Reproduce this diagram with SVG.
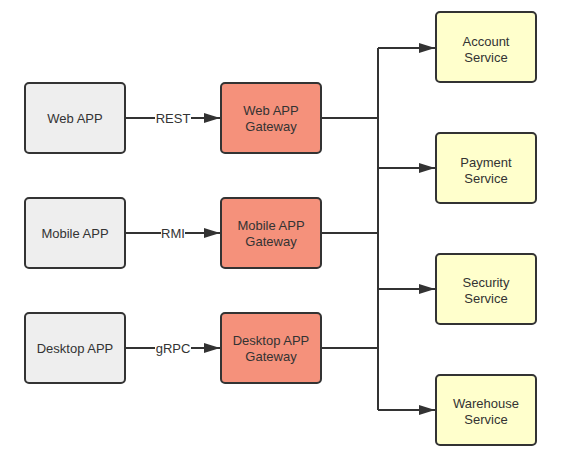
<svg xmlns="http://www.w3.org/2000/svg" width="561" height="458" viewBox="0 0 561 458">
<defs>
<style>
.box{stroke:#333333;stroke-width:2}
.client{fill:#eeeeee}
.gw{fill:#f5917b}
.svc{fill:#ffffcc}
text{font-family:"Liberation Sans",Arial,sans-serif;font-size:13px;fill:#333333;text-anchor:middle;dominant-baseline:central}
.edge{fill:none;stroke:#333333;stroke-width:2}
.lbl{fill:#ffffff}
</style>
<marker id="arr" viewBox="0 0 16 10" refX="16" refY="5" markerWidth="16" markerHeight="10" markerUnits="userSpaceOnUse" orient="auto">
<path d="M0,0 L16,5 L0,10 Z" fill="#333333"/>
</marker>
</defs>
<rect width="561" height="458" fill="#ffffff"/>
<g id="connectors">
<path class="edge" d="M125,118 H220" marker-end="url(#arr)"/>
<path class="edge" d="M125,233 H220" marker-end="url(#arr)"/>
<path class="edge" d="M125,348 H220" marker-end="url(#arr)"/>
<path class="edge" d="M321,118 H378"/>
<path class="edge" d="M321,233 H378"/>
<path class="edge" d="M321,348 H378"/>
<path class="edge" d="M378,48 V410"/>
<path class="edge" d="M378,48 H435" marker-end="url(#arr)"/>
<path class="edge" d="M378,168 H435" marker-end="url(#arr)"/>
<path class="edge" d="M378,289 H435" marker-end="url(#arr)"/>
<path class="edge" d="M378,410 H435" marker-end="url(#arr)"/>
<rect class="lbl" x="155" y="110" width="36" height="16"/>
<text x="173" y="118">REST</text>
<rect class="lbl" x="161" y="225" width="24" height="16"/>
<text x="173" y="233">RMI</text>
<rect class="lbl" x="155" y="340" width="36" height="16"/>
<text x="173" y="348">gRPC</text>
</g>
<g id="web-app"><rect class="box client" x="25" y="83" width="100" height="70" rx="4"/><text x="75" y="118">Web APP</text></g>
<g id="mobile-app"><rect class="box client" x="25" y="198" width="100" height="70" rx="4"/><text x="75" y="233">Mobile APP</text></g>
<g id="desktop-app"><rect class="box client" x="25" y="313" width="100" height="70" rx="4"/><text x="75" y="348">Desktop APP</text></g>
<g id="web-gw"><rect class="box gw" x="221" y="83" width="100" height="70" rx="4"/><text x="271" y="110">Web APP</text><text x="271" y="126">Gateway</text></g>
<g id="mobile-gw"><rect class="box gw" x="221" y="198" width="100" height="70" rx="4"/><text x="271" y="225">Mobile APP</text><text x="271" y="241">Gateway</text></g>
<g id="desktop-gw"><rect class="box gw" x="221" y="313" width="100" height="70" rx="4"/><text x="271" y="340">Desktop APP</text><text x="271" y="356">Gateway</text></g>
<g id="account"><rect class="box svc" x="436" y="12" width="100" height="70" rx="4"/><text x="486" y="41">Account</text><text x="486" y="57">Service</text></g>
<g id="payment"><rect class="box svc" x="436" y="133" width="100" height="70" rx="4"/><text x="486" y="162">Payment</text><text x="486" y="178">Service</text></g>
<g id="security"><rect class="box svc" x="436" y="254" width="100" height="70" rx="4"/><text x="486" y="282">Security</text><text x="486" y="298">Service</text></g>
<g id="warehouse"><rect class="box svc" x="436" y="375" width="100" height="70" rx="4"/><text x="486" y="403">Warehouse</text><text x="486" y="419">Service</text></g>
</svg>
